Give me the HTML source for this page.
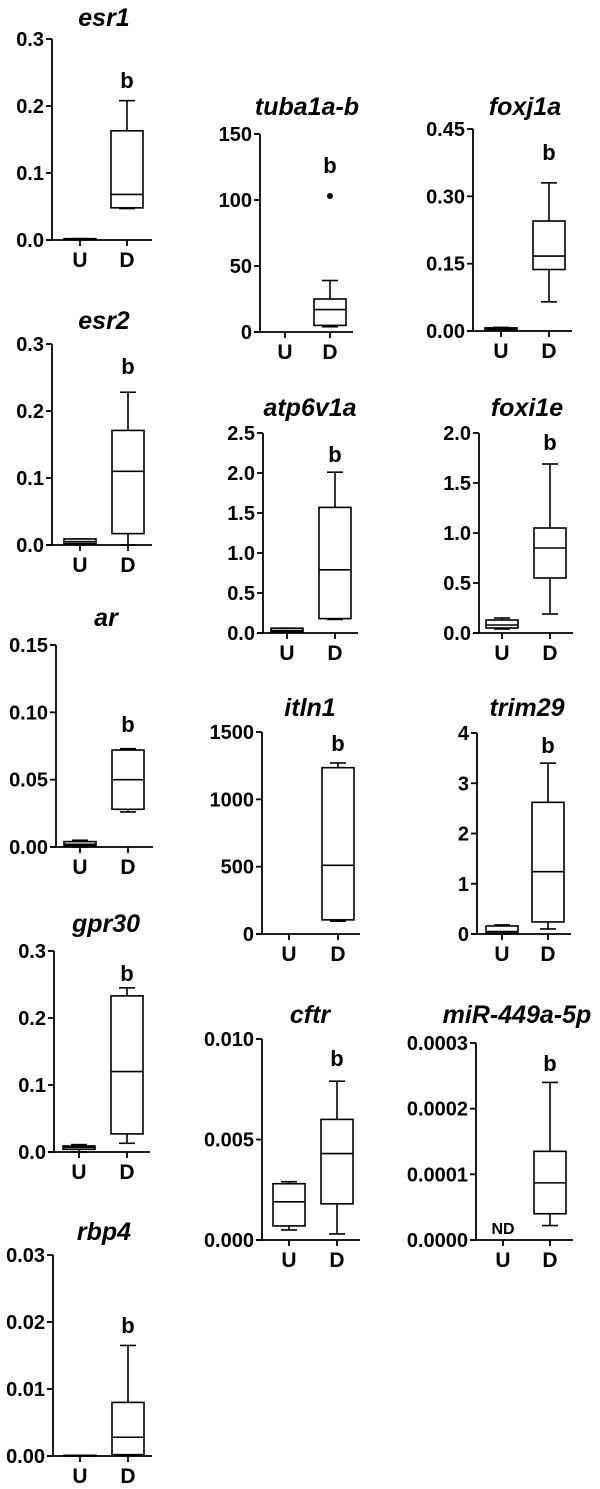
<!DOCTYPE html>
<html><head><meta charset="utf-8"><style>
html,body{margin:0;padding:0;background:#fff;}
svg{display:block;font-family:"Liberation Sans",Arial,sans-serif;}
</style></head><body>
<svg id="fig" width="600" height="1489" viewBox="0 0 600 1489" xmlns="http://www.w3.org/2000/svg"></svg>
<script>
// ---- data ----
const genes = ["esr1","esr2","ar","gpr30","rbp4","tuba1a-b","atp6v1a","itln1","cftr","foxj1a","foxi1e","trim29","miR-449a-5p"];
const yMaxes = [0.3,0.3,0.15,0.3,0.03,150,2.5,1500,0.010,0.45,2.0,4,0.0003];
const tickLabels = [
 ["0.0","0.1","0.2","0.3"],["0.0","0.1","0.2","0.3"],["0.00","0.05","0.10","0.15"],
 ["0.0","0.1","0.2","0.3"],["0.00","0.01","0.02","0.03"],["0","50","100","150"],
 ["0.0","0.5","1.0","1.5","2.0","2.5"],["0","500","1000","1500"],["0.000","0.005","0.010"],
 ["0.00","0.15","0.30","0.45"],["0.0","0.5","1.0","1.5","2.0"],["0","1","2","3","4"],
 ["0.0000","0.0001","0.0002","0.0003"]];
// [min, q1, median, q3, max]
const statsU = [
 [0,0.0005,0.001,0.002,0.002],[0,0.002,0.005,0.009,0.009],[0,0.001,0.002,0.004,0.005],
 [0,0.004,0.007,0.009,0.011],[0,0,0,0.0001,0.0001],null,
 [0.01,0.015,0.03,0.06,0.06],null,[0.0005,0.0007,0.0019,0.0028,0.0029],
 [0.002,0.003,0.005,0.007,0.008],[0.04,0.05,0.08,0.13,0.15],[0,0.02,0.05,0.16,0.18],null];
const statsD = [
 [0.047,0.048,0.068,0.163,0.208],[0,0.017,0.110,0.171,0.228],[0.026,0.028,0.050,0.072,0.073],
 [0.013,0.027,0.120,0.233,0.245],[0,0.0002,0.0028,0.008,0.0165],[4,5,17,25,39],
 [0.17,0.18,0.79,1.57,2.01],[95,105,510,1235,1270],[0.0003,0.0018,0.0043,0.006,0.0079],
 [0.065,0.137,0.167,0.245,0.33],[0.19,0.55,0.85,1.05,1.69],[0.1,0.24,1.24,2.62,3.4],
 [0.000022,0.00004,0.000087,0.000135,0.00024]];
const outliersD = [[],[],[],[],[],[103],[],[],[],[],[],[],[]];
const uNotes = ["","","","","","","","","","","","","ND"];

// ---- layout (pixels) ----
const LAY = [
 {ax:52,top:39,zero:240,u:80,d:127,end:152,tx:104,ty:26,by:88},
 {ax:52,top:344,zero:545,u:80,d:128,end:152,tx:104,ty:329,by:374},
 {ax:56,top:645,zero:847,u:80,d:128,end:153,tx:106,ty:626,by:732},
 {ax:54,top:951,zero:1152,u:79,d:127,end:150,tx:106,ty:932,by:981},
 {ax:53,top:1255,zero:1456,u:80,d:128,end:152,tx:104,ty:1240,by:1333},
 {ax:260,top:134,zero:332,u:285,d:330,end:353,tx:307,ty:115,by:173},
 {ax:263,top:433,zero:633,u:287,d:335,end:358,tx:310,ty:416,by:462},
 {ax:262,top:732,zero:934,u:289,d:338,end:360,tx:310,ty:716,by:751},
 {ax:262,top:1039,zero:1240,u:289,d:337,end:360,tx:310,ty:1023,by:1066},
 {ax:473,top:129,zero:331,u:501,d:549,end:572,tx:525,ty:115,by:160},
 {ax:479,top:433,zero:633,u:502,d:550,end:573,tx:527,ty:416,by:450},
 {ax:477,top:733,zero:934,u:502,d:548,end:571,tx:527,ty:716,by:753},
 {ax:476,top:1043,zero:1240,u:503,d:550,end:573,tx:517,ty:1023,by:1071}];

const NS="http://www.w3.org/2000/svg";
const svg=document.getElementById('fig');
function mk(tag,attrs,parent){const e=document.createElementNS(NS,tag);for(const k in attrs)e.setAttribute(k,attrs[k]);(parent||svg).appendChild(e);return e;}

function drawBox(g,s,cx,yf,hw,nm){
  const bx=mk('g',{},g);
  
  
  const st={stroke:'#000','stroke-width':1.6,fill:'none'};
  const yMin=yf(s[0]),yQ1=yf(s[1]),yMed=yf(s[2]),yQ3=yf(s[3]),yMax=yf(s[4]);
  mk('line',Object.assign({x1:cx,x2:cx,y1:yQ3,y2:yMax},st),bx);
  mk('line',Object.assign({x1:cx-8,x2:cx+8,y1:yMax,y2:yMax},st),bx);
  mk('line',Object.assign({x1:cx,x2:cx,y1:yQ1,y2:yMin},st),bx);
  mk('line',Object.assign({x1:cx-8,x2:cx+8,y1:yMin,y2:yMin},st),bx);
  mk('rect',{x:cx-hw,y:yQ3,width:2*hw,height:Math.max(yQ1-yQ3,0.5),fill:'#fff',stroke:'#000','stroke-width':1.6},bx);
  mk('line',Object.assign({x1:cx-hw,x2:cx+hw,y1:yMed,y2:yMed},st),bx);
}

genes.forEach((gname,i)=>{
  const L=LAY[i];
  const g=mk('g',{});
  
  
  const ymax=yMaxes[i];
  const yf=v=>L.zero-v/ymax*(L.zero-L.top);
  const t=mk('text',{x:L.tx,y:L.ty,'text-anchor':'middle','font-size':25,'font-weight':'bold','font-style':'italic'},g);
  t.textContent=gname;
  
  
  const ya=mk('line',{x1:L.ax,x2:L.ax,y1:L.top,y2:L.zero,stroke:'#000','stroke-width':1.8},g);
  
  
  const xa=mk('line',{x1:L.ax-6,x2:L.end,y1:L.zero,y2:L.zero,stroke:'#000','stroke-width':1.8},g);
  
  
  const labs=tickLabels[i];
  labs.forEach(lb=>{
    const v=parseFloat(lb);
    const y=yf(v);
    mk('line',{x1:L.ax-6,x2:L.ax,y1:y,y2:y,stroke:'#000','stroke-width':1.8},g);
    const tl=mk('text',{x:L.ax-8,y:y+7,'text-anchor':'end','font-size':20,'font-weight':'bold'},g);
    tl.textContent=lb;
    
    
  });
  [[L.u,'U'],[L.d,'D']].forEach(([x,c])=>{
    mk('line',{x1:x,x2:x,y1:L.zero,y2:L.zero+6,stroke:'#000','stroke-width':1.8},g);
    const xl=mk('text',{x:x,y:L.zero+27,'text-anchor':'middle','font-size':21,'font-weight':'bold'},g);
    xl.textContent=c;
    
    
  });
  if(statsU[i]) drawBox(g,statsU[i],L.u,yf,16,'box-u');
  drawBox(g,statsD[i],L.d,yf,16,'box-d');
  outliersD[i].forEach(v=>{
    const c=mk('circle',{cx:L.d,cy:yf(v),r:3,fill:'#000'},g);
    
    
  });
  if(uNotes[i]){
    const nd=mk('text',{x:L.u,y:L.zero-6,'text-anchor':'middle','font-size':16,'font-weight':'bold'},g);
    nd.textContent=uNotes[i];
    
    
  }
  const b=mk('text',{x:L.d,y:L.by,'text-anchor':'middle','font-size':22,'font-weight':'bold'},g);
  b.textContent='b';
  
  
});
</script>
</body></html>
